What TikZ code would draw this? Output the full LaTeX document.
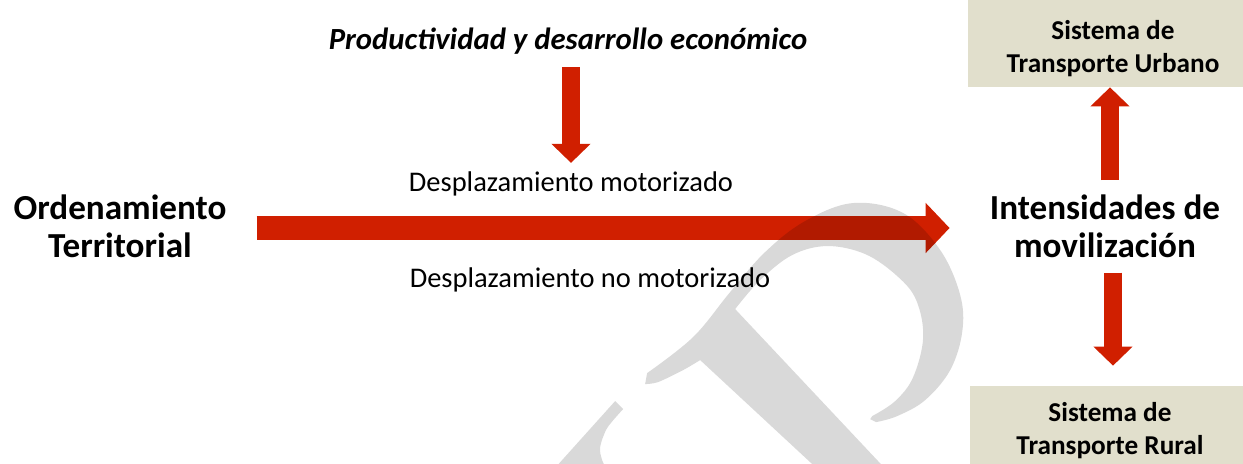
\documentclass[tikz,border=0pt]{standalone}
\usepackage{fontspec}
\setmainfont{Carlito}
\usetikzlibrary{arrows.meta,positioning,calc}
\definecolor{tpRed}{HTML}{D01F00}
\definecolor{tpBeige}{HTML}{E1DFCC}
\definecolor{tpMark}{HTML}{000000}

\begin{document}
\begin{tikzpicture}[
      font=\rmfamily,
      lbl/.style={inner sep=0pt, align=center,
                  font=\fontsize{20}{21.5}\selectfont\bfseries},
      note/.style={inner sep=0pt, font=\fontsize{16.2}{19}\selectfont},
      sysbox/.style={fill=tpBeige, inner sep=0pt, align=center,
                  font=\fontsize{15.5}{18.7}\selectfont\bfseries},
      fatarrow/.style={draw=tpRed, line width=0.48cm,
                  -{Triangle[width=0.98cm,length=0.48cm]}},
      vertarrow/.style={draw=tpRed, line width=0.37cm,
                  -{Triangle[width=0.76cm,length=0.38cm]}},
    ]

    \useasboundingbox (0,0) rectangle (24.86,-9.26);

    % ---------- textos principales ----------
    \node[lbl, anchor=base] (ord)    at (2.40,-5.14)  {Ordenamiento\\Territorial};
    \node[lbl, anchor=base] (intens) at (22.10,-5.14) {Intensidades de\\movilización};

    \node[note, anchor=base, font=\fontsize{17.5}{20}\selectfont\bfseries\itshape] (prod)
      at (11.36,-0.98) {Productividad y desarrollo económico};
    \node[note, anchor=base] (mot)   at (11.42,-3.82) {Desplazamiento motorizado};
    \node[note, anchor=base] (nomot) at (11.80,-5.74) {Desplazamiento no motorizado};

    % ---------- sistemas de transporte ----------
    \node[sysbox, text height=1.64cm, text depth=0.30cm, minimum width=5.8cm, anchor=base]
      (urb) at (22.26,-1.44) {Sistema de\\Transporte Urbano};
    \node[sysbox, text height=1.36cm, text depth=0.40cm, minimum width=5.6cm, anchor=base]
      (rur) at (22.20,-9.08) {Sistema de\\Transporte Rural};

    % ---------- flechas ----------
    \coordinate (axis) at (0,-4.56);
    \draw[fatarrow] ([xshift=6mm]ord.east |- axis) -- ([xshift=-8mm]intens.west |- axis);

    \draw[vertarrow, shorten <=0.26cm, shorten >=0.16cm] (prod.south -| mot.north) -- (mot.north);
    \draw[vertarrow, shorten <=0.28cm]
      ([xshift=1mm]intens.north) -- ([xshift=1mm]intens.north |- urb.south);
    \draw[vertarrow, shorten <=0.30cm, shorten >=0.40cm]
      ([xshift=1.6mm]intens.south) -- ([xshift=1.6mm]intens.south |- rur.north);

    % ---------- marca de agua ----------
    \begin{scope}[x=0.02cm, y=-0.02cm]
      \fill[tpMark, fill opacity=0.15]
        (645,384) -- (647,373)
        -- plot[smooth, tension=0.6] coordinates {(647,373) (693,337) (730,292) (765,252)
             (805,221) (853,203) (903,213) (940,250) (960,295) (962,332) (950,370)
             (925,400) (897,416) (876,422)}
        -- (870,419)
        -- plot[smooth, tension=0.6] coordinates {(872,416) (895,401) (913,377) (923,337)
             (916,300) (897,276) (865,254) (827,246) (792,255) (760,280) (735,309)}
        -- (892,476) -- (825,476) -- (700,360)
        -- plot[smooth] coordinates {(700,360) (683,370) (658,382) (645,384)}
        -- cycle
        (615,401) -- (623,409)
        -- plot[smooth] coordinates {(623,409) (607,428) (600,447) (602,460) (607,470)}
        -- (553,470) -- cycle;
    \end{scope}

  \end{tikzpicture}
\end{document}
